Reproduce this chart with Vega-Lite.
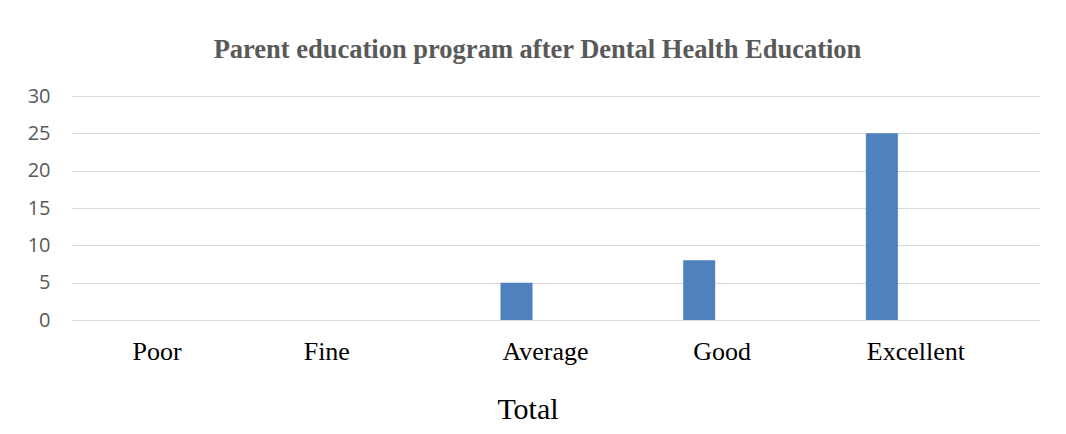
{
  "$schema": "https://vega.github.io/schema/vega-lite/v6.json",
  "autosize": "none",
  "width": 967,
  "height": 224,
  "padding": {"left": 72, "top": 96, "right": 27, "bottom": 114},
  "background": "white",
  "title": {
    "text": "Parent education program after Dental Health Education",
    "font": "Liberation Serif",
    "fontSize": 26.5,
    "fontWeight": "bold",
    "color": "#595959",
    "anchor": "middle",
    "frame": "group",
    "baseline": "alphabetic",
    "offset": 2,
    "dx": -18
  },
  "data": {
    "values": [
      {"rating": "Poor", "count": 0},
      {"rating": "Fine", "count": 0},
      {"rating": "Average", "count": 5},
      {"rating": "Good", "count": 8},
      {"rating": "Excellent", "count": 25}
    ]
  },
  "mark": {"type": "bar", "color": "#4f81bd"},
  "encoding": {
    "x": {
      "field": "rating",
      "type": "nominal",
      "sort": ["Poor", "Fine", "Average", "Good", "Excellent"],
      "scale": {"paddingInner": 0.8249, "paddingOuter": 0.5589, "align": 0.309},
      "axis": {
        "title": "Total",
        "titleFont": "Liberation Serif",
        "titleFontSize": 30,
        "titleFontWeight": "normal",
        "titleColor": "#000000",
        "titleBaseline": "alphabetic",
        "titleX": 455.5,
        "titleY": 98,
        "labelFont": "Liberation Serif",
        "labelFontSize": 26,
        "labelColor": "#000000",
        "labelAngle": 0,
        "labelBaseline": "top",
        "labelPadding": 18,
        "labelOffset": {
          "condition": [
            {"test": "datum.value === 'Poor'", "value": 6},
            {"test": "datum.value === 'Fine'", "value": -7},
            {"test": "datum.value === 'Average'", "value": 29},
            {"test": "datum.value === 'Good'", "value": 23}
          ],
          "value": 34
        },
        "ticks": false,
        "tickSize": 0,
        "domain": false,
        "grid": false
      }
    },
    "y": {
      "field": "count",
      "type": "quantitative",
      "scale": {"domain": [0, 30], "nice": false},
      "axis": {
        "title": null,
        "values": [0, 5, 10, 15, 20, 25, 30],
        "labelFont": "Open Sans",
        "labelFontSize": 20,
        "labelColor": "#595959",
        "labelPadding": 22,
        "ticks": false,
        "tickSize": 0,
        "domain": false,
        "grid": true,
        "gridColor": "#d9d9d9",
        "gridWidth": 1.2
      }
    }
  },
  "config": {
    "view": {"stroke": null}
  }
}
